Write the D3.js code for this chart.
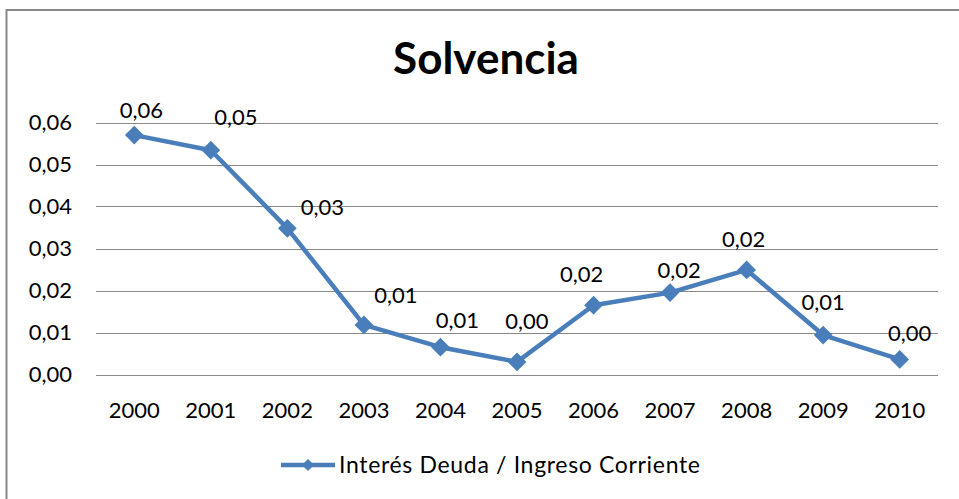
<!DOCTYPE html>
<html>
<head>
<meta charset="utf-8">
<script src="https://cdn.jsdelivr.net/npm/d3@7"></script>
<style>
  html, body { margin: 0; padding: 0; background: #fff; }
  svg text { font-family: Lato, "Open Sans", sans-serif; fill: #000; }
</style>
</head>
<body>
<svg id="chart" width="959" height="499"></svg>
<script>
/// Data
var years = ["2000","2001","2002","2003","2004","2005","2006","2007","2008","2009","2010"]
var values = [0.0570, 0.0534, 0.0348, 0.0118, 0.0065, 0.0030, 0.0165, 0.0195, 0.0249, 0.0094, 0.0036]
var yTicks = [0, 0.01, 0.02, 0.03, 0.04, 0.05, 0.06]
var seriesName = "Interés Deuda / Ingreso Corriente"
var title = "Solvencia"

/// Hand-placed data label nudges (dx, dy from the marker), as in the original
var labelNudge = [[7,-17],[25,-25],[35,-13],[32,-22],[17,-19],[10,-33],[-12,-23],[9,-15],[-3,-23],[0,-25],[10,-18]]

var blue = "#4a7ebb"
var grid = "#888888"
var fmt = d => d3.format(".2f")(d).replace(".", ",")

var svg = d3.select("#chart")

/// Outer chart frame (runs off right and bottom edges)
svg.append("path")
    .attr("d", "M6.5,520 L6.5,10 L980,10")
    .attr("fill", "none")
    .attr("stroke", "#888")
    .attr("stroke-width", 2)

svg.append("text")
    .attr("x", 486)
    .attr("y", 74)
    .attr("text-anchor", "middle")
    .attr("font-size", "44px")
    .attr("font-weight", "bold")
    .text(title)

var x = d3.scaleBand()
    .domain(years)
    .range([96, 938])

var y = d3.scaleLinear()
    .domain([0, 0.06])
    .range([374.5, 122.5])

/// Gridlines
svg.append("g")
    .selectAll("line")
    .data(yTicks)
    .enter()
    .append("line")
    .attr("x1", 96)
    .attr("x2", 938)
    .attr("y1", d => Math.round(y(d)) + 0.5)
    .attr("y2", d => Math.round(y(d)) + 0.5)
    .attr("stroke", grid)
    .attr("stroke-width", 1)

/// Y axis labels
var yAxis = svg.append("g")
    .attr("transform", "translate(86,0)")
    .call(d3.axisLeft(y).tickValues(yTicks).tickFormat(fmt).tickSize(0).tickPadding(14))
yAxis.select(".domain").remove()
yAxis.selectAll("text")
    .attr("font-size", "22px")
    .attr("font-family", null)
    .attr("fill", "#000")

/// X axis labels
var xAxis = svg.append("g")
    .attr("transform", "translate(0,375)")
    .call(d3.axisBottom(x).tickSize(0).tickPadding(27))
xAxis.select(".domain").remove()
xAxis.selectAll("text")
    .attr("font-size", "22px")
    .attr("font-family", null)
    .attr("fill", "#000")

var cx = (d, i) => x(years[i]) + x.bandwidth() / 2

/// Series line
var line = d3.line()
    .x((d, i) => cx(d, i))
    .y(d => y(d))

svg.append("path")
    .datum(values)
    .attr("d", line)
    .attr("fill", "none")
    .attr("stroke", blue)
    .attr("stroke-width", 4.5)
    .attr("stroke-linejoin", "round")

/// Diamond markers
var diamond = d3.symbol().type(d3.symbolSquare).size(175)
svg.append("g")
    .selectAll("path")
    .data(values)
    .enter()
    .append("path")
    .attr("d", diamond)
    .attr("transform", (d, i) => "translate(" + cx(d, i) + "," + y(d) + ") rotate(45)")
    .attr("fill", blue)

/// Data labels
svg.append("g")
    .selectAll("text")
    .data(values)
    .enter()
    .append("text")
    .attr("x", (d, i) => cx(d, i) + labelNudge[i][0])
    .attr("y", (d, i) => y(d) + labelNudge[i][1])
    .attr("text-anchor", "middle")
    .attr("font-size", "22px")
    .text(fmt)

/// Legend
var legend = svg.append("g").attr("transform", "translate(281,465)")
legend.append("line")
    .attr("x1", 0).attr("x2", 54)
    .attr("stroke", blue)
    .attr("stroke-width", 4.5)
legend.append("path")
    .attr("d", d3.symbol().type(d3.symbolSquare).size(75))
    .attr("transform", "translate(27,0) rotate(45)")
    .attr("fill", blue)
legend.append("text")
    .attr("x", 58)
    .attr("y", 8)
    .attr("font-size", "23px")
    .attr("textLength", 361)
    .attr("lengthAdjust", "spacing")
    .text(seriesName)
</script>
</body>
</html>
